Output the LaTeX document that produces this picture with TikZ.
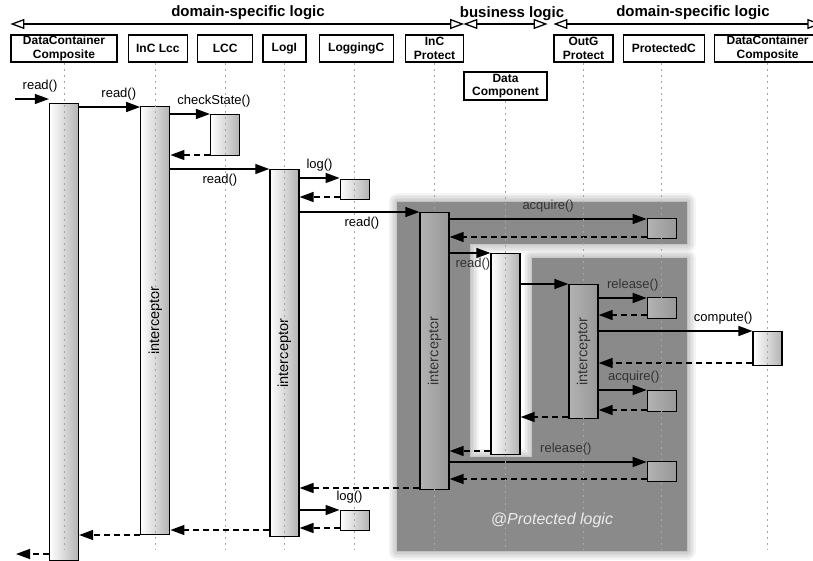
\documentclass[tikz,border=0pt]{standalone}
\usepackage{fontspec}
\setmainfont{Liberation Sans}
\usepackage{tikz}
\usetikzlibrary{arrows.meta,positioning}
% outline of the protected zone
\newcommand{\zonepath}{(397,202) -- (687,202) -- (687,244) -- (470,244) -- (470,457) -- (532,457) -- (532,258) -- (687,258) -- (687,551) -- (397,551) -- cycle}

\begin{document}
\begin{tikzpicture} %
		[
			x=1pt, y=-1pt,
			font={\fontsize{13}{15}\selectfont},
			head/.style={
				draw,
				fill=white,
				line width=1.3pt,
				align=center,
				font={\bfseries\fontsize{12}{13.5}\selectfont},
				inner sep=1pt,
				minimum height=27pt,
			},
			title/.style={font={\bfseries\fontsize{15}{17}\selectfont}},
			span/.style={line width=1.3pt, {Triangle[open,length=14pt,width=10pt]}-{Triangle[open,length=14pt,width=10pt]}},
			bar/.style={draw, line width=1.3pt, anchor=north, left color=white, right color=black!30, minimum width=29pt, inner sep=0pt},
			dim/.style={fill opacity=0.35},
			arch/.style={line width=1.4pt, -{Triangle[length=14pt,width=10pt]}},
			back/.style={arch, dash pattern=on 6pt off 4pt},
			over/.style={above=4pt, inner sep=2pt},
			under/.style={below=2pt, inner sep=2pt},
			life/.style={black!35, line width=1pt, dash pattern=on 2pt off 4pt},
			zone/.style={fill=black!46},
			intc/.style={rotate=90, font={\fontsize{14.5}{16}\selectfont}},
		]
		\useasboundingbox (0,0) rectangle (813,561);
		% protected zone, soft edge first
		\foreach \w in {2,5,...,17}
			\draw[line width=\w pt, draw opacity=0.04, line join=round] \zonepath;
		\fill[zone] \zonepath;
		% participants
		\node[head, minimum width=106pt] (hA) at (64,48.5) {DataContainer\\Composite};
		\node[head, minimum width=59pt, right=10pt of hA] (hB) {InC Lcc};
		\node[head, minimum width=55pt, right=9pt of hB] (hC) {LCC};
		\node[head, minimum width=43pt, right=9pt of hC] (hD) {LogI};
		\node[head, minimum width=74pt, right=12pt of hD] (hE) {LoggingC};
		\node[head, minimum width=58pt, right=11pt of hE] (hF) {InC\\Protect};
		\node[head, minimum width=83pt, minimum height=28pt] (hG) at (505.5,86) {Data\\Component};
		\node[head, minimum width=59pt] (hH) at (583.5,48.5) {OutG\\Protect};
		\node[head, minimum width=81pt, right=9pt of hH] (hI) {ProtectedC};
		\node[head, minimum width=106pt, right=9pt of hI] (hJ) {DataContainer\\Composite};
		% layers
		\node[title] (tA) at (248,13) {domain-specific logic};
		\node[title] (tB) at (512,14) {business logic};
		\node[title] (tC) at (693,13) {domain-specific logic};
		\draw[span] (hA.west |- 0,24) -- (hF.east |- 0,24);
		\draw[span] (hG.west |- 0,24) -- (hG.east |- 0,24);
		\draw[span] (hH.west |- 0,24) -- (hJ.east |- 0,24);
		% activations
		\node[bar, minimum height=457pt] (bA) at (hA |- 0,103) {};
		\node[bar, minimum height=428pt] (bB) at ([xshift=-2.5pt]hB |- 0,106) {};
		\node[bar, minimum height=41pt] (bC) at (hC |- 0,114) {};
		\node[bar, minimum height=367pt] (bD) at (hD |- 0,169) {};
		\node[bar, minimum height=20pt] (bE) at ([xshift=-1.5pt]hE |- 0,179) {};
		\node[bar, minimum height=20pt] (bE2) at (bE |- 0,510) {};
		\node[bar, dim, minimum height=277pt] (bF) at (hF |- 0,212) {};
		\node[bar, dim, minimum height=20pt] (bG) at ([xshift=-2pt]hI |- 0,218) {};
		\node[bar, minimum height=201pt] (bH) at (hG |- 0,253) {};
		\node[bar, dim, minimum height=134pt] (bI) at (hH |- 0,284) {};
		\node[bar, dim, minimum height=21pt] (bG2) at (bG |- 0,297) {};
		\node[bar, minimum height=34pt] (bK) at (hJ |- 0,331) {};
		\node[bar, dim, minimum height=21pt] (bG3) at (bG |- 0,390) {};
		\node[bar, dim, minimum height=20pt] (bG4) at (bG |- 0,461) {};
		\foreach \b in {bB,bD}
			\node[intc] at (\b) {interceptor};
		\foreach \b in {bF,bI}
			\node[intc, text=black!80] at (\b) {interceptor};
		% messages
		\coordinate (in) at (15,99);
		\coordinate (out) at (16,554);
		\draw[arch] 
		(in) 
		-- node[over, pos=.74]{read()} 
		(bA.west |- in);
		\draw[arch] 
		(bA.east |- 0,107) 
		-- node[over, pos=.65]{read()} 
		(bB.west |- 0,107);
		\draw[arch] 
		(bB.east |- 0,114) 
		-- node[over, pos=1.1]{checkState()} 
		(bC.west |- 0,114);
		\draw[back] (bC.west |- 0,155) -- (bB.east |- 0,155);
		\draw[arch] 
		(bB.east |- 0,169) 
		-- node[under]{read()} 
		(bD.west |- 0,169);
		\draw[arch] 
		(bD.east |- 0,178) 
		-- node[over]{log()} 
		(bE.west |- 0,178);
		\draw[back] (bE.west |- 0,197) -- (bD.east |- 0,197);
		\draw[arch] 
		(bD.east |- 0,212) 
		-- node[under, pos=.52]{read()} 
		(bF.west |- 0,212);
		\draw[arch] 
		(bF.east |- 0,219) 
		-- node[over, text=black!80]{acquire()} 
		(bG.west |- 0,219);
		\draw[back] (bG.west |- 0,237) -- (bF.east |- 0,237);
		\draw[arch] 
		(bF.east |- 0,253) 
		-- node[under, pos=.57, text=black!80]{read()} 
		(bH.west |- 0,253);
		\draw[arch] (bH.east |- 0,284) -- (bI.west |- 0,284);
		\draw[arch] 
		(bI.east |- 0,298) 
		-- node[over, pos=.71, text=black!80]{release()} 
		(bG2.west |- 0,298);
		\draw[back] (bG2.west |- 0,315) -- (bI.east |- 0,315);
		\draw[arch] 
		(bI.east |- 0,331) 
		-- node[over, pos=.81]{compute()} 
		(bK.west |- 0,331);
		\draw[back] (bK.west |- 0,363) -- (bI.east |- 0,363);
		\draw[arch] 
		(bI.east |- 0,390) 
		-- node[over, pos=.73, text=black!80]{acquire()} 
		(bG3.west |- 0,390);
		\draw[back] (bG3.west |- 0,410) -- (bI.east |- 0,410);
		\draw[back] (bI.west |- 0,417) -- (bH.east |- 0,417);
		\draw[back] (bH.west |- 0,451) -- (bF.east |- 0,451);
		\draw[arch] 
		(bF.east |- 0,462) 
		-- node[over, pos=.59, text=black!80]{release()} 
		(bG4.west |- 0,462);
		\draw[back] (bG4.west |- 0,479) -- (bF.east |- 0,479);
		\draw[back] (bF.west |- 0,488) -- (bD.east |- 0,488);
		\draw[arch] 
		(bD.east |- 0,510) 
		-- node[over, pos=1.25]{log()} 
		(bE2.west |- 0,510);
		\draw[back] (bE2.west |- 0,528) -- (bD.east |- 0,528);
		\draw[back] (bD.west |- 0,530) -- (bB.east |- 0,530);
		\draw[back] (bB.west |- 0,535) -- (bA.east |- 0,535);
		\draw[back] (bA.west |- out) -- (out);
		% lifelines on top
		\foreach \h/\b in {hA/bA,hB/bB,hC/bC,hD/bD,hE/bE,hF/bF,hG/bH,hH/bI,hI/bG,hJ/bK}
			\draw[life] (\b |- \h.south) -- (\b |- 0,550);
		\node[font={\itshape\fontsize{16}{18}\selectfont}, text=white!92!black] (plogic) at (552,520) {@Protected logic};
	\end{tikzpicture}
\end{document}
